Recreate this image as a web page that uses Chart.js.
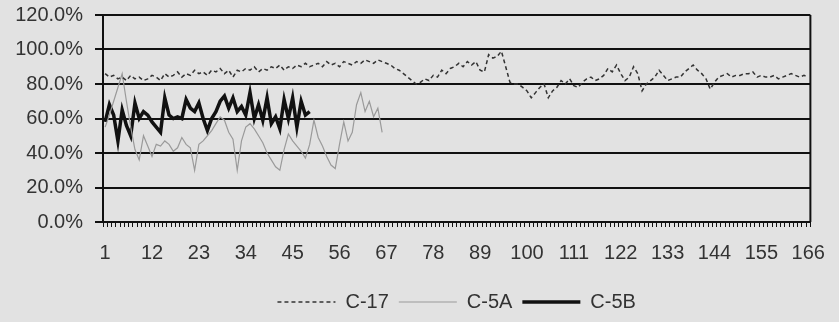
<!DOCTYPE html>
<html>
<head>
<meta charset="utf-8">
<script src="https://cdn.jsdelivr.net/npm/chart.js@4"></script>
<style>
  body { margin: 0; background: #e2e2e2; }
  canvas { display: block; }
</style>
</head>
<body>
<canvas id="grafico" width="839" height="322"></canvas>
<script>
// Valores (porcentaje)
const c17 = [
  86, 84, 85, 83, 84, 82, 85, 83, 84, 82,
  83, 85, 84, 82, 86, 84, 85, 87, 84, 86,
  85, 88, 86, 87, 85, 88, 87, 89, 86, 88,
  84, 88, 87, 89, 88, 90, 87, 89, 88, 90,
  89, 91, 88, 90, 89, 91, 90, 92, 90, 91,
  92, 90, 93, 91, 92, 90, 93, 92, 91, 93,
  92, 94, 93, 92, 94, 93, 92, 91, 89, 88,
  86, 84, 82, 80, 81, 83, 82, 85, 84, 88,
  86, 89, 90, 92, 90, 93, 91, 93, 88, 87,
  97, 95, 96, 99, 90, 81, 80, 80, 78, 76,
  72, 75, 78, 80, 72, 76, 78, 82, 80, 83,
  79, 78, 81, 83, 84, 82, 83, 85, 89, 87,
  91, 86, 82, 84, 90, 86, 76, 80, 82, 84,
  88, 85, 82, 83, 84, 84, 87, 89, 91, 88,
  86, 83, 77, 81, 84, 85, 86, 84, 85, 85,
  86, 86, 87, 84, 85, 84, 84, 85, 83, 84,
  85, 86, 85, 84, 85, 84
];

const c5a = [
  55, 62, 70, 78, 86, 70, 55, 42, 36, 50,
  44, 38, 45, 44, 47, 45, 41, 43, 49, 45,
  43, 30, 45, 47, 50, 53, 57, 61, 59, 52,
  48, 30, 47, 55, 57, 54, 50, 46, 40, 36,
  32, 30, 42, 51, 47, 44, 41, 37, 45, 59,
  49, 44, 38, 33, 31, 45, 58, 47, 52, 68,
  75, 64, 70, 61, 66, 52
];

const c5b = [
  58, 68, 62, 47, 65, 56, 50, 69, 60, 64,
  62, 58, 55, 52, 72, 62, 60, 61, 60, 71,
  66, 64, 69, 60, 53, 60, 64, 70, 73, 66,
  72, 64, 67, 62, 75, 60, 68, 59, 72, 57,
  61, 54, 71, 60, 72, 55, 70, 62, 64
];

// Etiquetas del eje X: 1..166
const etiquetas = [];
for (let i = 1; i <= 166; i++) etiquetas.push(String(i));

const fuente = { family: "'Liberation Sans', Arial, sans-serif", size: 20 };

// Fondo gris y borde derecho del área de trazado
const fondo = {
  id: "fondo",
  beforeDraw(chart) {
    const ctx = chart.ctx;
    ctx.save();
    ctx.fillStyle = "#e2e2e2";
    ctx.fillRect(0, 0, chart.width, chart.height);
    ctx.restore();
  },
  afterDatasetsDraw(chart) {
    const { ctx, chartArea } = chart;
    ctx.save();
    ctx.strokeStyle = "#111";
    ctx.lineWidth = 2;
    ctx.beginPath();
    ctx.moveTo(chartArea.right, chartArea.top);
    ctx.lineTo(chartArea.right, chartArea.bottom);
    ctx.stroke();
    ctx.restore();
  }
};

// Leyenda con el trazo real de cada serie (punteado incluido)
function etiquetasLeyenda(chart) {
  const items = Chart.defaults.plugins.legend.labels.generateLabels(chart);
  items.forEach((it, i) => {
    const ds = chart.data.datasets[i];
    it.lineDash = ds.borderDash || [];
    it.lineWidth = ds.borderWidth;
    it.strokeStyle = ds.borderColor;
  });
  return items;
}

const ctx = document.getElementById("grafico").getContext("2d");
new Chart(ctx, {
  type: "line",
  data: {
    labels: etiquetas,
    datasets: [
      {
        label: "C-17",
        data: c17,
        borderColor: "#333",
        borderWidth: 1.5,
        borderDash: [4, 3],
        pointRadius: 0,
        tension: 0
      },
      {
        label: "C-5A",
        data: c5a,
        borderColor: "#9a9a9a",
        borderWidth: 1.2,
        pointRadius: 0,
        tension: 0
      },
      {
        label: "C-5B",
        data: c5b,
        borderColor: "#111",
        borderWidth: 3.5,
        pointRadius: 0,
        tension: 0
      }
    ]
  },
  options: {
    responsive: false,
    animation: false,
    layout: { padding: { left: 0, right: 21, top: 15, bottom: 0 } },
    plugins: {
      tooltip: { enabled: false },
      legend: {
        position: "bottom",
        fullSize: false,
        labels: {
          color: "#333",
          font: fuente,
          usePointStyle: true,
          pointStyle: "line",
          pointStyleWidth: 58,
          padding: 10,
          generateLabels: etiquetasLeyenda
        }
      }
    },
    scales: {
      x: {
        offset: true,
        border: { color: "#111", width: 2 },
        grid: {
          display: true,
          offset: true,
          drawOnChartArea: false,
          drawTicks: true,
          tickLength: 5,
          color: "#111",
          lineWidth: 1
        },
        ticks: {
          autoSkip: false,
          maxRotation: 0,
          color: "#333",
          font: fuente,
          padding: 14,
          callback: (v, i) => (i % 11 === 0 ? etiquetas[i] : "")
        },
        afterFit(scale) { scale.height += 3; }
      },
      y: {
        min: 0,
        max: 120,
        border: { color: "#111", width: 2 },
        grid: {
          color: "#111",
          lineWidth: 2,
          tickLength: 8
        },
        ticks: {
          stepSize: 20,
          color: "#333",
          font: fuente,
          padding: 12,
          callback: v => v.toFixed(1) + "%"
        },
        afterFit(scale) {
          scale.width = 103;
          scale.paddingTop = 0;
          scale.paddingBottom = 0;
        }
      }
    }
  },
  plugins: [fondo]
});
</script>
</body>
</html>
